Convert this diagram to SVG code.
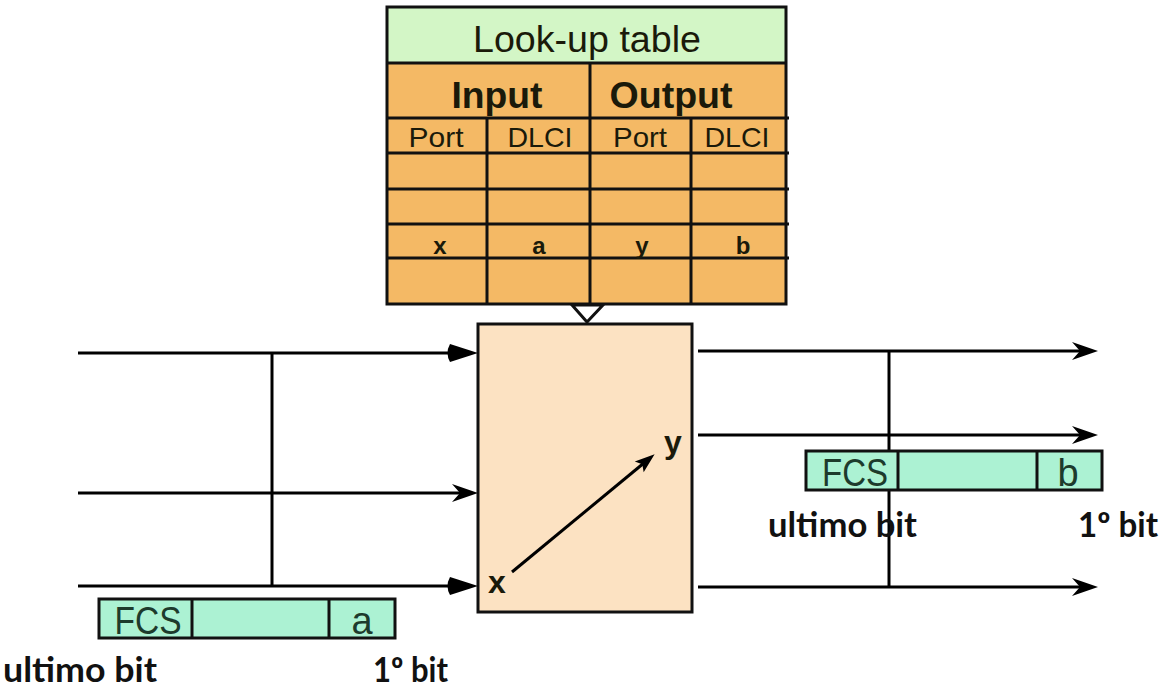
<svg xmlns="http://www.w3.org/2000/svg" width="1165" height="691" viewBox="0 0 1165 691">
<style>
.ln{stroke:#000;stroke-width:3;fill:none}
.tb{stroke:#111;stroke-width:3}
.hdr{fill:#D3F6C6}
.org{fill:#F4B965}
.box{fill:#FCE2C2;stroke:#111;stroke-width:3}
.frm{fill:#ACF2D3;stroke:#111;stroke-width:3}
.t-reg{font-family:"Liberation Sans",Arial,sans-serif;fill:#1a1a0a;text-anchor:middle}
.t-bold{font-family:"Liberation Sans",Arial,sans-serif;font-weight:bold;fill:#1a1a0a;text-anchor:middle}
.t-frm{font-family:"Liberation Sans",Arial,sans-serif;fill:#1d3b2c;text-anchor:middle;font-size:38px}
.t-bit{font-family:Lato,"Open Sans",sans-serif;font-weight:bold;fill:#111;font-size:34px}
</style>
<defs>
<marker id="fillhead" markerUnits="userSpaceOnUse" markerWidth="40" markerHeight="30" viewBox="-30 -15 40 30" refX="0" refY="0" orient="auto">
<path d="M8,0 L-20,-9 Q-25,0 -20,9 Z" fill="#000"/>
</marker>
<marker id="barb" markerUnits="userSpaceOnUse" markerWidth="40" markerHeight="30" viewBox="-30 -15 40 30" refX="0" refY="0" orient="auto">
<path d="M6,0 L-20,-9 L-12,0 L-20,9 Z" fill="#000"/>
</marker>
<marker id="diag" markerUnits="userSpaceOnUse" markerWidth="30" markerHeight="30" viewBox="-20 -15 30 30" refX="0" refY="0" orient="auto">
<path d="M6,0 L-14,-7 L-10,0 L-14,7 Z" fill="#000"/>
</marker>
</defs>

<g id="lookup-table">
<rect class="hdr" x="387" y="7" width="399" height="56"/>
<rect class="org" x="387" y="63" width="399" height="241"/>
<rect x="387" y="7" width="399" height="297" fill="none" class="tb"/>
<line class="tb" x1="387" y1="63" x2="786" y2="63"/>
<line class="tb" x1="387" y1="118" x2="789" y2="118"/>
<line class="tb" x1="387" y1="153" x2="789" y2="153"/>
<line class="tb" x1="387" y1="189" x2="789" y2="189"/>
<line class="tb" x1="387" y1="224" x2="789" y2="224"/>
<line class="tb" x1="387" y1="258" x2="789" y2="258"/>
<line class="tb" x1="590" y1="63" x2="590" y2="304"/>
<line class="tb" x1="487" y1="118" x2="487" y2="304"/>
<line class="tb" x1="691" y1="118" x2="691" y2="304"/>
<text class="t-reg" x="587" y="52" font-size="37" textLength="228" lengthAdjust="spacingAndGlyphs">Look-up table</text>
<text class="t-bold" x="497" y="108" font-size="37" textLength="91" lengthAdjust="spacingAndGlyphs">Input</text>
<text class="t-bold" x="671" y="108" font-size="37" textLength="123" lengthAdjust="spacingAndGlyphs">Output</text>
<text class="t-reg" x="436" y="147" font-size="28" textLength="55" lengthAdjust="spacingAndGlyphs">Port</text>
<text class="t-reg" x="540" y="147" font-size="28" textLength="65" lengthAdjust="spacingAndGlyphs">DLCI</text>
<text class="t-reg" x="640" y="147" font-size="28" textLength="54" lengthAdjust="spacingAndGlyphs">Port</text>
<text class="t-reg" x="737" y="147" font-size="28" textLength="65" lengthAdjust="spacingAndGlyphs">DLCI</text>
<text class="t-bold" x="440" y="254" font-size="24">x</text>
<text class="t-bold" x="539" y="254" font-size="24">a</text>
<text class="t-bold" x="642" y="254" font-size="24">y</text>
<text class="t-bold" x="743" y="254" font-size="24">b</text>
</g>

<g id="switch">
<rect class="box" x="478" y="324" width="214" height="288"/>
<text class="t-bold" x="497" y="593" font-size="32" fill="#222">x</text>
<text class="t-bold" x="673" y="453" font-size="32" fill="#222">y</text>
</g>

<g id="connectors">
<polygon points="572,305 603,305 587,322" fill="#fff" stroke="#111" stroke-width="3" stroke-linejoin="miter"/>
<line class="ln" x1="78" y1="353" x2="470" y2="353" marker-end="url(#fillhead)"/>
<line class="ln" x1="78" y1="493" x2="472" y2="493" marker-end="url(#barb)"/>
<line class="ln" x1="78" y1="586" x2="470" y2="586" marker-end="url(#fillhead)"/>
<line class="ln" x1="272" y1="353" x2="272" y2="586"/>
<line class="ln" x1="698" y1="351" x2="1092" y2="351" marker-end="url(#barb)"/>
<line class="ln" x1="698" y1="435" x2="1092" y2="435" marker-end="url(#barb)"/>
<line class="ln" x1="698" y1="587" x2="1092" y2="587" marker-end="url(#barb)"/>
<line class="ln" x1="889" y1="351" x2="889" y2="587"/>
<line class="ln" x1="512" y1="572" x2="650" y2="458" marker-end="url(#diag)"/>
</g>

<g id="frame-a">
<rect class="frm" x="99" y="599" width="296" height="39"/>
<line class="tb" x1="192" y1="599" x2="192" y2="638"/>
<line class="tb" x1="329" y1="599" x2="329" y2="638"/>
<text class="t-frm" x="148" y="634" textLength="67" lengthAdjust="spacingAndGlyphs">FCS</text>
<text class="t-frm" x="362" y="634">a</text>
</g>

<g id="frame-b">
<rect class="frm" x="806" y="451" width="296" height="39"/>
<line class="tb" x1="898" y1="451" x2="898" y2="490"/>
<line class="tb" x1="1037" y1="451" x2="1037" y2="490"/>
<text class="t-frm" x="855" y="486" textLength="66" lengthAdjust="spacingAndGlyphs">FCS</text>
<text class="t-frm" x="1068" y="486">b</text>
</g>

<g id="labels">
<text class="t-bit" x="3" y="682" textLength="154" lengthAdjust="spacingAndGlyphs">ultimo bit</text>
<text class="t-bit" x="373" y="682" textLength="75" lengthAdjust="spacingAndGlyphs">1º bit</text>
<text class="t-bit" x="768" y="537" textLength="149" lengthAdjust="spacingAndGlyphs">ultimo bit</text>
<text class="t-bit" x="1078" y="537" textLength="80" lengthAdjust="spacingAndGlyphs">1º bit</text>
</g>
</svg>
